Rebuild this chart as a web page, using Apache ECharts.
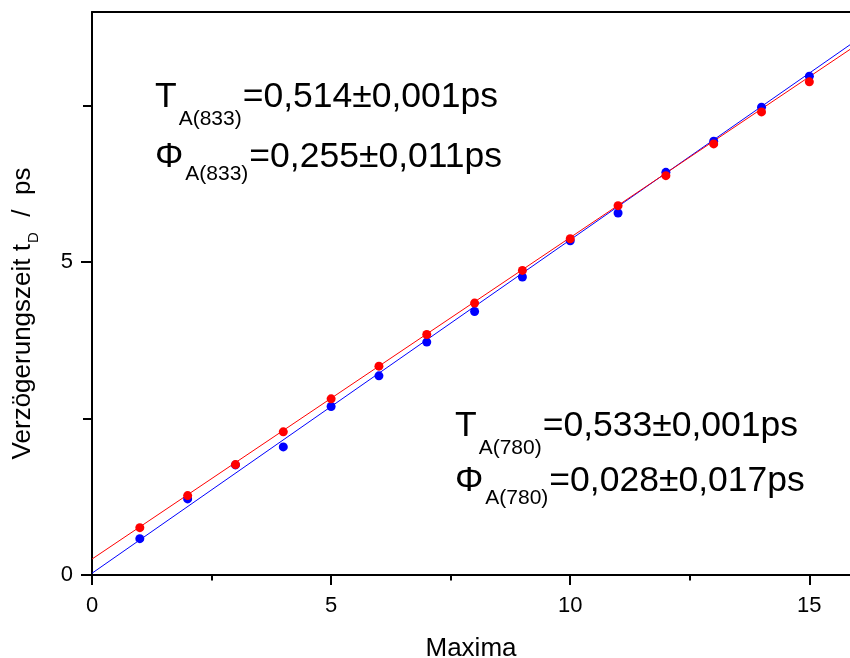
<!DOCTYPE html>
<html>
<head>
<meta charset="utf-8">
<script src="https://cdn.jsdelivr.net/npm/echarts@6/dist/echarts.min.js"></script>
<style>
  html, body { margin: 0; padding: 0; background: #fff; }
  #chart { width: 850px; height: 658px; }
</style>
</head>
<body>
<div id="chart"></div>
<script>
// Interference maxima index
const maxima = [1, 2, 3, 4, 5, 6, 7, 8, 9, 10, 11, 12, 13, 14, 15];
// Measured delay times t_D (ps), 833 nm and 780 nm
const delay833 = [0.757, 1.269, 1.765, 2.288, 2.816, 3.339, 3.845, 4.347, 4.869, 5.376, 5.904, 6.384, 6.891, 7.403, 7.883];
const delay780 = [0.581, 1.216, 1.760, 2.048, 2.693, 3.184, 3.723, 4.213, 4.763, 5.344, 5.787, 6.437, 6.933, 7.477, 7.973];
// Linear fit results: slope T and offset Phi (ps)
const fitT = { a833: 0.514, a780: 0.533 };
const fitPhi = { a833: 0.255, a780: 0.028 };
// Axis ranges and tick labels
const xRange = [0, 15.85];
const yRange = [0, 9];
const xTicks = [0, 5, 10, 15];
const yTicks = [0, 5];

const FONT = 'Liberation Sans, Arial, Helvetica, sans-serif';

function fitLine(t, phi) {
  return [[xRange[0], phi + t * xRange[0]], [xRange[1], phi + t * xRange[1]]];
}
function pairs(ys) {
  return maxima.map((m, i) => [m, ys[i]]);
}
function fmt(v) {
  return v.toFixed(3).replace('.', ',');
}

// Fit-result annotations: large symbol/value, subscripted line label
const richAnn = {
  m: { fontSize: 35.5, lineHeight: 36, fontFamily: FONT, fill: '#000', verticalAlign: 'top' },
  sT: { fontSize: 21, lineHeight: 21, fontFamily: FONT, fill: '#000', verticalAlign: 'top', padding: [29.5, 1, 0, 2] },
  sP: { fontSize: 21, lineHeight: 21, fontFamily: FONT, fill: '#000', verticalAlign: 'top', padding: [25, 1, 0, 2] }
};

function annText(x, y, sym, subStyle, sub, val, err) {
  return {
    type: 'text',
    x: x,
    y: y,
    z: 100,
    style: {
      text: '{m|' + sym + '}{' + subStyle + '|' + sub + '}{m|=' + fmt(val) + '\u00b1' + fmt(err) + 'ps}',
      rich: richAnn,
      fill: '#000',
      align: 'left',
      verticalAlign: 'top'
    }
  };
}

const axisLineStyle = { color: '#000', width: 2 };

const chart = echarts.init(document.getElementById('chart'), null, { renderer: 'canvas' });
chart.setOption({
  animation: false,
  backgroundColor: '#fff',
  grid: { left: 92, right: 0, top: 12, bottom: 83, containLabel: false, outerBoundsMode: 'none' },
  xAxis: [
    {
      type: 'value',
      min: xRange[0],
      max: xRange[1],
      interval: 5,
      position: 'bottom',
      axisLine: { show: true, onZero: false, lineStyle: axisLineStyle },
      axisTick: { show: true, inside: false, length: 10, lineStyle: axisLineStyle, customValues: xTicks },
      minorTick: { show: true, splitNumber: 2, length: 5.5, lineStyle: axisLineStyle },
      axisLabel: { customValues: xTicks, fontSize: 22, color: '#000', fontFamily: FONT, margin: 20 },
      splitLine: { show: false },
      minorSplitLine: { show: false },
      name: 'Maxima',
      nameLocation: 'middle',
      nameGap: 61,
      nameTextStyle: { fontSize: 26, color: '#000', fontFamily: FONT }
    },
    {
      type: 'value',
      min: xRange[0],
      max: xRange[1],
      position: 'top',
      axisLine: { show: true, onZero: false, lineStyle: axisLineStyle },
      axisTick: { show: false },
      axisLabel: { show: false },
      splitLine: { show: false }
    }
  ],
  yAxis: {
    type: 'value',
    min: yRange[0],
    max: yRange[1],
    interval: 5,
    position: 'left',
    axisLine: { show: true, onZero: false, lineStyle: axisLineStyle },
    axisTick: { show: true, inside: false, length: 11, lineStyle: axisLineStyle, customValues: yTicks },
    minorTick: { show: true, splitNumber: 2, length: 9, lineStyle: axisLineStyle },
    axisLabel: { customValues: yTicks, fontSize: 22, color: '#000', fontFamily: FONT, margin: 19 },
    splitLine: { show: false },
    minorSplitLine: { show: false },
    name: '{m|Verzögerungszeit t}{s|D}{e|  /  ps}',
    nameLocation: 'middle',
    nameGap: 56,
    nameTextStyle: {
      fontSize: 26, color: '#000', fontFamily: FONT,
      rich: {
        m: { fontSize: 26, lineHeight: 26, color: '#000', fontFamily: FONT, verticalAlign: 'top' },
        e: { fontSize: 26, lineHeight: 26, color: '#000', fontFamily: FONT, verticalAlign: 'top', padding: [0, 40, 0, 0] },
        s: { fontSize: 15, lineHeight: 15, color: '#000', fontFamily: FONT, verticalAlign: 'top', padding: [16, 1, 0, 1] }
      }
    }
  },
  series: [
    {
      name: 'Fit 780',
      type: 'line',
      data: fitLine(fitT.a780, fitPhi.a780),
      showSymbol: false,
      symbol: 'none',
      lineStyle: { color: '#0000ff', width: 1 },
      z: 2
    },
    {
      name: 'Fit 833',
      type: 'line',
      data: fitLine(fitT.a833, fitPhi.a833),
      showSymbol: false,
      symbol: 'none',
      lineStyle: { color: '#ff0000', width: 1 },
      z: 2
    },
    {
      name: 'A(780)',
      type: 'scatter',
      data: pairs(delay780),
      symbol: 'circle',
      symbolSize: 9,
      itemStyle: { color: '#0000ff', opacity: 1 },
      z: 3
    },
    {
      name: 'A(833)',
      type: 'scatter',
      data: pairs(delay833),
      symbol: 'circle',
      symbolSize: 9,
      itemStyle: { color: '#ff0000', opacity: 1 },
      z: 4
    }
  ],
  graphic: [
    annText(155, 79.5, 'T', 'sT', 'A(833)', fitT.a833, 0.001),
    annText(155, 139, '\u03a6', 'sP', 'A(833)', fitPhi.a833, 0.011),
    annText(455, 408, 'T', 'sT', 'A(780)', fitT.a780, 0.001),
    annText(455, 463, '\u03a6', 'sP', 'A(780)', fitPhi.a780, 0.017)
  ]
});
</script>
</body>
</html>
